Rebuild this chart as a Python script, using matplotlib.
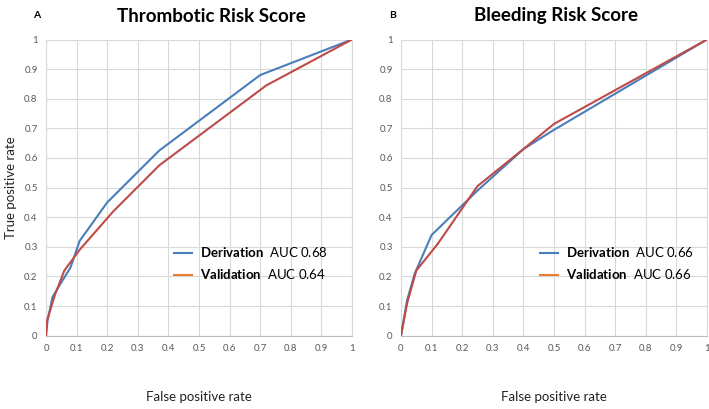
import matplotlib
matplotlib.use("Agg")
import matplotlib.pyplot as plt
from matplotlib.lines import Line2D

plt.rcParams['font.family'] = ['Lato', 'DejaVu Sans']
plt.rcParams['mathtext.fontset'] = 'custom'
plt.rcParams['mathtext.bf'] = 'Lato:bold'
plt.rcParams['mathtext.rm'] = 'Lato'

# Panel A: Thrombotic Risk Score
thr_der_fpr = [0, 0.005, 0.021, 0.05, 0.08, 0.11, 0.20, 0.37, 0.70, 1.0]
thr_der_tpr = [0, 0.05, 0.13, 0.18, 0.23, 0.32, 0.45, 0.625, 0.88, 1.0]
thr_val_fpr = [0, 0.003, 0.03, 0.06, 0.11, 0.22, 0.37, 0.72, 1.0]
thr_val_tpr = [0, 0.05, 0.14, 0.22, 0.29, 0.42, 0.575, 0.845, 1.0]

# Panel B: Bleeding Risk Score
ble_der_fpr = [0, 0.005, 0.02, 0.045, 0.10, 0.25, 0.40, 0.50, 1.0]
ble_der_tpr = [0, 0.03, 0.12, 0.21, 0.34, 0.49, 0.63, 0.695, 1.0]
ble_val_fpr = [0, 0.02, 0.05, 0.12, 0.25, 0.40, 0.50, 1.0]
ble_val_tpr = [0, 0.11, 0.22, 0.31, 0.505, 0.63, 0.715, 1.0]

titles = ["Thrombotic Risk Score", "Bleeding Risk Score"]
panel_labels = ["A", "B"]
auc_der = ["0.68", "0.66"]
auc_val = ["0.64", "0.66"]
ticks = [0, 0.1, 0.2, 0.3, 0.4, 0.5, 0.6, 0.7, 0.8, 0.9, 1]
tick_labels = ["0", "0.1", "0.2", "0.3", "0.4", "0.5", "0.6", "0.7", "0.8", "0.9", "1"]

blue = "#4a7ebb"
red = "#be4b48"
orange = "#ed7d31"

W, H = 709, 409
fig = plt.figure(figsize=(W / 100, H / 100), dpi=100)

def fx(px):
    return px / W

def fy(py):
    return 1 - py / H

axes_px = [(46, 352), (401, 707)]
y_top, y_bot = 39.5, 335.7
title_cx = [211.5, 556.5]
label_x = [33, 389]
legend_x = [0.418, 0.454]

data = [
    (thr_der_fpr, thr_der_tpr, thr_val_fpr, thr_val_tpr),
    (ble_der_fpr, ble_der_tpr, ble_val_fpr, ble_val_tpr),
]

for i, (x0, x1) in enumerate(axes_px):
    ax = fig.add_axes([fx(x0), fy(y_bot), (x1 - x0) / W, (y_bot - y_top) / H])
    df, dt, vf, vt = data[i]
    ax.plot(df, dt, color=blue, lw=1.5, zorder=3)
    ax.plot(vf, vt, color=red, lw=1.5, zorder=3)
    ax.set_xlim(0, 1)
    ax.set_ylim(0, 1)
    ax.set_xticks(ticks)
    ax.set_yticks(ticks)
    ax.set_xticklabels(tick_labels)
    ax.set_yticklabels(tick_labels)
    ax.grid(True, color="#d9d9d9", lw=0.8)
    ax.set_axisbelow(True)
    for s in ['top', 'right', 'left']:
        ax.spines[s].set_color("#d9d9d9")
        ax.spines[s].set_linewidth(0.8)
    ax.spines['bottom'].set_color("#bfbfbf")
    ax.spines['bottom'].set_linewidth(0.8)
    ax.tick_params(length=0, labelsize=7, labelcolor="#595959", pad=6)
    fig.text(fx((x0 + x1) / 2), fy(397), "False positive rate", fontsize=9.5,
             color="#222222", ha='center', va='center')
    fig.text(fx(title_cx[i]), fy(16), titles[i], fontsize=13.5, fontweight='bold',
             ha='center', va='center')
    fig.text(fx(label_x[i]), fy(15), panel_labels[i], fontsize=7.5, fontweight='bold',
             ha='left', va='center')
    handles = [Line2D([], [], color=blue, lw=1.5), Line2D([], [], color=orange, lw=1.5)]
    labels = [r"$\mathbf{Derivation}$  AUC " + auc_der[i],
              r"$\mathbf{Validation}$  AUC " + auc_val[i]]
    ax.legend(handles, labels, loc='upper left', bbox_to_anchor=(legend_x[i], 0.305),
              frameon=False, fontsize=9.5, handlelength=1.4, handletextpad=0.6,
              labelspacing=0.6, borderpad=0, borderaxespad=0)

fig.text(fx(11), fy(188), "True positive rate", fontsize=9.5, color="#222222",
         rotation=90, ha='center', va='center')

fig.savefig("out.png", dpi=100)
